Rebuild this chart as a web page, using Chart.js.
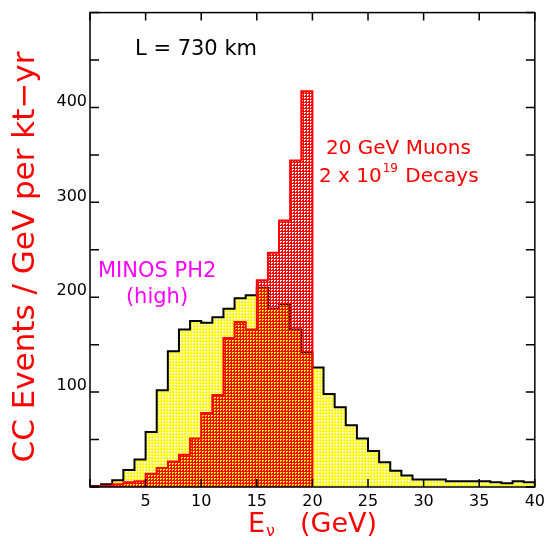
<!DOCTYPE html>
<html>
<head>
<meta charset="utf-8">
<script src="https://cdn.jsdelivr.net/npm/chart.js@4"></script>
<style>
  html, body { margin: 0; padding: 0; background: #fff; }
  #plot { display: block; background: #fff; }
</style>
</head>
<body>
<canvas id="plot" width="550" height="544"></canvas>
<script>
// 1 GeV bins, edges in GeV
var binEdges = [0, 1, 2, 3, 4, 5, 6, 7, 8, 9, 10, 11, 12, 13, 14, 15, 16, 17, 18, 19, 20,
                21, 22, 23, 24, 25, 26, 27, 28, 29, 30, 31, 32, 33, 34, 35, 36, 37, 38, 39, 40];

// MINOS PH2 (high) beam, events per bin
var minosEvents = [1, 3, 7, 18, 29, 58, 102, 143, 166, 175,
                   173, 179, 188, 199, 202, 210, 188, 193, 166, 142,
                   126, 98, 84, 65, 51, 38, 26, 17, 12, 8,
                   8, 8, 6, 6, 6, 6, 5, 4, 6, 5];

// 20 GeV muon storage ring, 2 x 10^19 decays
var muonEvents = [0.5, 1, 3, 5, 6, 14, 20, 27, 34, 51,
                  78, 97, 157, 174, 166, 218, 247, 281, 344, 417];

var xTickLabels = [5, 10, 15, 20, 25, 30, 35, 40];
var yTickLabels = [100, 200, 300, 400];

var FONT = "'DejaVu Sans', sans-serif";

function histPoints(values) {
    var pts = [{x: binEdges[0], y: 0}];
    for (var i = 0; i < values.length; i++)
        pts.push({x: binEdges[i], y: values[i]});
    var n = values.length;
    pts.push({x: binEdges[n], y: values[n - 1]});
    pts.push({x: binEdges[n], y: 0});
    return pts;
}

// small cross-hatch tiles like the old HIGZ fill styles
function hatch(ctx, ink, paper, isHole) {
    var c = document.createElement('canvas');
    c.width = 3; c.height = 3;
    var t = c.getContext('2d');
    t.clearRect(0, 0, 3, 3);
    for (var y = 0; y < 3; y++) {
        for (var x = 0; x < 3; x++) {
            if (!isHole(x, y)) {
                t.fillStyle = ink;
                t.fillRect(x, y, 1, 1);
            } else if (paper) {
                t.fillStyle = paper;
                t.fillRect(x, y, 1, 1);
            }
        }
    }
    return ctx.createPattern(c, 'repeat');
}

var canvas = document.getElementById('plot');
var ctx = canvas.getContext('2d');

// white dots in the yellow, see-through dots in the red (they land on yellow pixels)
var yellowFill = hatch(ctx, 'rgb(255,255,0)', 'rgb(255,255,255)', function(x, y) {
    return (x == 0 && y == 0) || (x == 1 && y == 0) || (x == 0 && y == 1);
});
var redFill = hatch(ctx, 'rgb(255,0,0)', null, function(x, y) {
    return (x == 1 && y == 1) || (x == 2 && y == 1) || (x == 1 && y == 2);
});

function text(c, str, x, y, size, color, align) {
    c.font = size + 'px ' + FONT;
    c.fillStyle = color;
    c.textAlign = align || 'left';
    c.textBaseline = 'middle';
    c.fillText(str, x, y);
    return c.measureText(str).width;
}

var decorations = {
    id: 'decorations',
    afterDatasetsDraw: function(chart) {
        var c = chart.ctx;
        var a = chart.chartArea;
        var xs = chart.scales.x;
        var ys = chart.scales.y;
        c.save();

        // frame with inward ticks on all four sides
        c.strokeStyle = '#000';
        c.lineWidth = 1.5;
        c.strokeRect(a.left, a.top, a.right - a.left, a.bottom - a.top);
        c.beginPath();
        xs.ticks.forEach(function(t) {
            var px = xs.getPixelForValue(t.value);
            c.moveTo(px, a.bottom); c.lineTo(px, a.bottom - 8);
            c.moveTo(px, a.top);    c.lineTo(px, a.top + 8);
        });
        ys.ticks.forEach(function(t) {
            var py = ys.getPixelForValue(t.value);
            c.moveTo(a.left, py);  c.lineTo(a.left + 9, py);
            c.moveTo(a.right, py); c.lineTo(a.right - 9, py);
        });
        c.stroke();

        text(c, 'L = 730 km', 135, 50, 21, '#000');

        text(c, '20 GeV Muons', 326, 149, 20, '#ff0000');
        var w = text(c, '2 x 10', 319, 177, 20, '#ff0000');
        var w2 = text(c, '19', 319 + w + 1, 169, 12, '#ff0000');
        text(c, ' Decays', 319 + w + w2 + 2, 177, 20, '#ff0000');

        text(c, 'MINOS PH2', 98, 272, 21, '#ff00ff');
        text(c, '(high)', 157, 298, 21, '#ff00ff', 'center');

        // x axis title, E with subscript nu
        var we = text(c, 'E', 248, 525, 27, '#ff0000');
        text(c, '\u03bd', 248 + we + 1, 532, 16, '#ff0000');
        text(c, '(GeV)', 300, 525, 27, '#ff0000');

        // y axis title
        c.translate(26, 257);
        c.rotate(-Math.PI / 2);
        text(c, 'CC Events / GeV per kt\u2212yr', 0, 0, 31, '#ff0000', 'center');

        c.restore();
    }
};

var chart = new Chart(canvas, {
    type: 'line',
    data: {
        datasets: [{
            label: '20 GeV Muons',
            data: histPoints(muonEvents),
            stepped: true,
            fill: 'origin',
            backgroundColor: redFill,
            borderColor: '#ff0000',
            borderWidth: 2,
            pointRadius: 0
        }, {
            label: 'MINOS PH2 (high)',
            data: histPoints(minosEvents),
            stepped: true,
            fill: 'origin',
            backgroundColor: yellowFill,
            borderColor: '#000000',
            borderWidth: 2,
            pointRadius: 0
        }]
    },
    options: {
        responsive: false,
        animation: false,
        devicePixelRatio: 1,
        layout: { padding: { top: 11, right: 14, left: 0, bottom: 0 } },
        plugins: {
            legend: { display: false },
            tooltip: { enabled: false }
        },
        scales: {
            x: {
                type: 'linear',
                min: 0,
                max: 40,
                grid: { display: false, drawTicks: false },
                border: { display: false },
                ticks: {
                    stepSize: 5,
                    padding: 5,
                    color: '#000',
                    font: { family: FONT, size: 16 },
                    maxRotation: 0,
                    callback: function(v) { return xTickLabels.indexOf(v) >= 0 ? v : ''; }
                },
                afterFit: function(s) { s.height = 57; }
            },
            y: {
                min: 0,
                max: 500,
                grid: { display: false, drawTicks: false },
                border: { display: false },
                ticks: {
                    stepSize: 50,
                    padding: 3,
                    labelOffset: -6,
                    color: '#000',
                    font: { family: FONT, size: 16 },
                    callback: function(v) { return yTickLabels.indexOf(v) >= 0 ? v : ''; }
                },
                afterFit: function(s) { s.width = 90; }
            }
        }
    },
    plugins: [decorations]
});
</script>
</body>
</html>
